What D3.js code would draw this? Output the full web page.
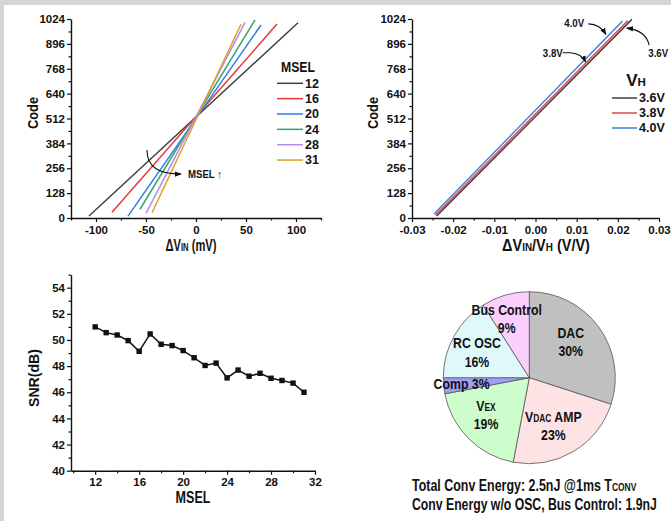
<!DOCTYPE html>
<html><head><meta charset="utf-8">
<script src="https://cdn.jsdelivr.net/npm/d3@7"></script>
<style>body{margin:0;background:#fff}svg{display:block}</style>
</head><body><svg id="c" width="671" height="521"></svg>
<script>
// ---------------- DATA ----------------
const mselLevels = ["12","16","20","24","28","31"];
const mselVinStart = [-107, -84, -68, -56, -50, -44];
const mselCodeStart = [10, 29, 10, 45, 24, 27];
const mselVinEnd = [102, 81, 65, 59, 49, 45];
const mselCodeEnd = [1005, 998, 993, 1019, 1007, 997];

const vhLevels = ["3.6V","3.8V","4.0V"];
const vhRatioStart = [-0.0240, -0.0243, -0.0246];
const vhCodeStart = [10, 15, 22];
const vhRatioEnd = [0.0234, 0.0224, 0.0211];
const vhCodeEnd = [1022, 1015, 1012];

const snrMsel = [12,13,14,15,16,17,18,19,20,21,22,23,24,25,26,27,28,29,30,31];
const snrDb = [51.0,50.56,50.38,49.95,49.13,50.46,49.67,49.57,49.19,48.64,48.05,48.23,47.10,47.70,47.23,47.45,47.07,46.90,46.70,46.00];

const pieNames = ["DAC","VDAC AMP","VEX","Comp","RC OSC","Bus Control"];
const piePct = [30, 23, 19, 3, 16, 9];

const codeTicks = [0,128,256,384,512,640,768,896,1024];
const vinTicks = [-100,-50,0,50,100];
const ratioTicks = [-0.03,-0.02,-0.01,0,0.01,0.02,0.03];
const snrTicks = [40,42,44,46,48,50,52,54];
const mselTicks = [12,16,20,24,28,32];

// ---------------- STYLE ----------------
const F = "'Liberation Sans',Arial,sans-serif";
const mselColors = ["#404040","#e23b3b","#2f7fdc","#35a56e","#b58be9","#d9a126"];
const vhColors = ["#404040","#e04444","#3b82dc"];
const pieColors = ["#c0c0c0","#fde3e3","#cdfccd","#9f9ff5","#dff9fb","#fcd0fc"];

const svg = d3.select("#c");
svg.append("rect").attr("width",671).attr("height",521).attr("fill","#d5d5d5");
svg.append("rect").attr("x",4).attr("y",5).attr("width",667).attr("height",516).attr("fill","#fff");

const defs = svg.append("defs");
defs.append("marker").attr("id","ah").attr("viewBox","0 0 8 6").attr("refX",7).attr("refY",3)
  .attr("markerWidth",7).attr("markerHeight",6).attr("markerUnits","userSpaceOnUse").attr("orient","auto")
  .append("path").attr("d","M0,0 L8,3 L0,6 Z").attr("fill","#111");

function scaleX(t, s){
  const bb = t.node().getBBox();
  const anchor = t.attr("text-anchor")||"start";
  const ax = anchor==="middle" ? bb.x+bb.width/2 : (anchor==="end"? bb.x+bb.width : bb.x);
  const prev = t.attr("transform")||"";
  t.attr("transform", `${prev} translate(${ax},0) scale(${s},1) translate(${-ax},0)`);
}
function fitWidth(t, w){
  const bb = t.node().getBBox();
  if(bb.width) scaleX(t, w/bb.width);
}
function rich(g, x, y, parts, size, anchor){
  const t = g.append("text").attr("x",x).attr("y",y).attr("font-family",F).attr("font-weight","bold")
    .attr("font-size",size).attr("fill","#111").attr("text-anchor",anchor||"middle");
  parts.forEach(p=>{
    const ts = t.append("tspan").text(p[0]);
    if(p[1]) ts.attr("font-size", size*0.68);
  });
  return t;
}
function styleAxis(g){
  g.selectAll(".domain").attr("stroke","#111").attr("stroke-width",1.4);
  g.selectAll(".tick line").attr("stroke","#111").attr("stroke-width",1.2);
  g.selectAll(".tick text").attr("font-family",F).attr("font-weight","bold").attr("font-size",11.5).attr("fill","#111");
}
function drawAxes(x, y, xMajor, xMinor, xFmt, yMajor, yMinor, yFmt){
  const x0 = x.range()[0], y0 = y.range()[0];
  const gx = svg.append("g").attr("transform",`translate(0,${y0})`)
    .call(d3.axisBottom(x).tickValues(xMajor).tickFormat(xFmt).tickSize(4).tickSizeOuter(0).tickPadding(3.5));
  styleAxis(gx);
  const gxm = svg.append("g").attr("transform",`translate(0,${y0})`)
    .call(d3.axisBottom(x).tickValues(xMinor).tickFormat(()=>"").tickSize(2.5));
  gxm.select(".domain").remove(); styleAxis(gxm);
  const gy = svg.append("g").attr("transform",`translate(${x0},0)`)
    .call(d3.axisLeft(y).tickValues(yMajor).tickFormat(yFmt).tickSize(4).tickSizeOuter(0).tickPadding(2));
  styleAxis(gy);
  const gym = svg.append("g").attr("transform",`translate(${x0},0)`)
    .call(d3.axisLeft(y).tickValues(yMinor).tickFormat(()=>"").tickSize(2.5));
  gym.select(".domain").remove(); styleAxis(gym);
}
function plain(x, y, txt, size, anchor){
  return svg.append("text").attr("x",x).attr("y",y).text(txt).attr("text-anchor",anchor||"start")
    .attr("font-family",F).attr("font-weight","bold").attr("font-size",size).attr("fill","#111");
}
function vTitle(cx, cy, txt, w){
  const t = svg.append("text").attr("transform",`translate(${cx},${cy}) rotate(-90)`).attr("text-anchor","middle")
    .text(txt).attr("font-family",F).attr("font-weight","bold").attr("font-size",15).attr("fill","#111");
  fitWidth(t, w);
  return t;
}
const lineGen = d3.line();

// ---------------- TOP LEFT ----------------
{
  const x = d3.scaleLinear([-125,125],[71,321]);
  const y = d3.scaleLinear([0,1024],[218,19]);
  drawAxes(x, y, vinTicks, [-125,-75,-25,25,75,125], d=>String(d),
    codeTicks, d3.range(64,1024,128), d=>String(d));
  mselLevels.forEach((m,i)=>{
    svg.append("path").attr("d", lineGen([[x(mselVinStart[i]),y(mselCodeStart[i])],[x(mselVinEnd[i]),y(mselCodeEnd[i])]]))
      .attr("stroke",mselColors[i]).attr("stroke-width",1.5).attr("fill","none");
  });
  // legend
  const lt = rich(svg, 298, 72, [["MSEL"]], 15, "middle"); fitWidth(lt, 34);
  mselLevels.forEach((m,i)=>{
    const yy = 83.3 + i*15.35;
    svg.append("line").attr("x1",277).attr("x2",303).attr("y1",yy).attr("y2",yy).attr("stroke",mselColors[i]).attr("stroke-width",1.5);
    plain(305, yy+4.3, m, 12.5);
  });
  // annotation
  const p = [[x(-49),y(350)],[x(-49),y(257)],[x(-36),y(226)],[x(-15),y(226)]];
  svg.append("path").attr("d",`M${p[0]} C${p[1]} ${p[2]} ${p[3]}`).attr("fill","none").attr("stroke","#111").attr("stroke-width",1.1).attr("marker-end","url(#ah)");
  const ma = plain(x(-8), y(226)+4, "MSEL \u2191", 11); fitWidth(ma, 34);
  // titles
  vTitle(38, 113, "Code", 32);
  const tx = rich(svg, 191, 251, [["\u0394V"],["IN",1],[" (mV)"]], 16, "middle"); fitWidth(tx, 51);
}

// ---------------- TOP RIGHT ----------------
{
  const x = d3.scaleLinear([-0.03,0.03],[412,659]);
  const y = d3.scaleLinear([0,1024],[218,19]);
  drawAxes(x, y, ratioTicks, [-0.025,-0.015,-0.005,0.005,0.015,0.025], d=>d.toFixed(2),
    codeTicks, d3.range(64,1024,128), d=>String(d));
  vhLevels.forEach((v,i)=>{
    svg.append("path").attr("d", lineGen([[x(vhRatioStart[i]),y(vhCodeStart[i])],[x(vhRatioEnd[i]),y(vhCodeEnd[i])]]))
      .attr("stroke",vhColors[i]).attr("stroke-width",1.5).attr("fill","none");
  });
  rich(svg, 636, 86, [["V"],["H",1]], 17, "middle");
  vhLevels.forEach((v,i)=>{
    const yy = 98 + i*15;
    svg.append("line").attr("x1",612).attr("x2",637).attr("y1",yy).attr("y2",yy).attr("stroke",vhColors[i]).attr("stroke-width",1.5);
    plain(639, yy+4.3, v, 12.5);
  });
  // annotations
  const ann = (t, vx, vc) => { const e = plain(x(vx), y(vc)+4, t, 11, "middle"); fitWidth(e, 20.5); };
  ann("4.0V", 0.0094, 1002);
  svg.append("path").attr("d",`M${x(0.0128)},${y(999)} Q${x(0.0155)},${y(1000)} ${x(0.0171)},${y(945)}`)
    .attr("fill","none").attr("stroke","#111").attr("stroke-width",1.1).attr("marker-end","url(#ah)");
  ann("3.8V", 0.0042, 848);
  svg.append("path").attr("d",`M${x(0.0066)},${y(850)} L${x(0.0085)},${y(850)} Q${x(0.0112)},${y(845)} ${x(0.0122)},${y(803)}`)
    .attr("fill","none").attr("stroke","#111").attr("stroke-width",1.1).attr("marker-end","url(#ah)");
  ann("3.6V", 0.0298, 848);
  svg.append("path").attr("d",`M${x(0.0276)},${y(890)} Q${x(0.0268)},${y(965)} ${x(0.0222)},${y(977)}`)
    .attr("fill","none").attr("stroke","#111").attr("stroke-width",1.1).attr("marker-end","url(#ah)");
  vTitle(378, 113, "Code", 32);
  const tx = rich(svg, 546, 251, [["\u0394V"],["IN",1],["/V"],["H",1],[" (V/V)"]], 16, "middle"); fitWidth(tx, 88);
}

// ---------------- BOTTOM LEFT ----------------
{
  const x = d3.scaleLinear([9.8,32],[71,315]);
  const y = d3.scaleLinear([40,55],[470.7,274.6]);
  drawAxes(x, y, mselTicks, [10,14,18,22,26,30], d=>String(d),
    snrTicks, [41,43,45,47,49,51,53,55], d=>String(d));
  const pts = snrMsel.map((m,i)=>[x(m), y(snrDb[i])]);
  svg.append("path").attr("d", lineGen(pts)).attr("fill","none").attr("stroke","#111").attr("stroke-width",1.5);
  svg.selectAll("rect.mk").data(pts).enter().append("rect").attr("class","mk")
    .attr("x",d=>d[0]-2.7).attr("y",d=>d[1]-2.7).attr("width",5.4).attr("height",5.4).attr("fill","#111");
  vTitle(39, 378, "SNR(dB)", 58);
  const mt = plain(193, 503, "MSEL", 16, "middle"); fitWidth(mt, 35);
}

// ---------------- PIE ----------------
{
  const cx = 529.3, cy = 377.7, R = 86;
  const g = svg.append("g").attr("transform",`translate(${cx},${cy})`);
  const arcs = d3.pie().sort(null).value(d=>d)(piePct);
  const arc = d3.arc().innerRadius(0).outerRadius(R);
  g.selectAll("path").data(arcs).enter().append("path").attr("d",arc)
    .attr("fill",(d,i)=>pieColors[i]).attr("stroke","#555").attr("stroke-width",0.8);
  const labelK = [0.638,0.625,0.664,0.79,0.678,0.734];
  const labelDA = [-5,4,4.3,0.7,-2.6,-4.8];
  const labelParts = [
    [[["DAC"]],[[piePct[0]+"%"]]],
    [[["V"],["DAC",1],[" AMP"]],[[piePct[1]+"%"]]],
    [[["V"],["EX",1]],[[piePct[2]+"%"]]],
    [[["Comp "+piePct[3]+"%"]]],
    [[["RC OSC"]],[[piePct[4]+"%"]]],
    [[["Bus Control"]],[[piePct[5]+"%"]]]
  ];
  arcs.forEach((a,i)=>{
    const ang = (a.startAngle+a.endAngle)/2 + labelDA[i]*Math.PI/180;
    const r = labelK[i]*R;
    const lx = r*Math.sin(ang), ly = -r*Math.cos(ang);
    const lines = labelParts[i];
    const n = lines.length;
    lines.forEach((parts,j)=>{
      const yy = ly + (j-(n-1)/2)*18.5 + 5.3;
      const t = rich(g, lx, yy, parts, 15, "middle");
      scaleX(t, 0.82);
    });
  });
  const t1 = rich(svg, 412, 491.5, [["Total Conv Energy: 2.5nJ  @1ms T"],["CONV",1]], 16, "start");
  fitWidth(t1, 225);
  const t2 = rich(svg, 412, 510.5, [["Conv Energy w/o OSC, Bus Control: 1.9nJ"]], 16, "start");
  fitWidth(t2, 245);
}
</script></body></html>
